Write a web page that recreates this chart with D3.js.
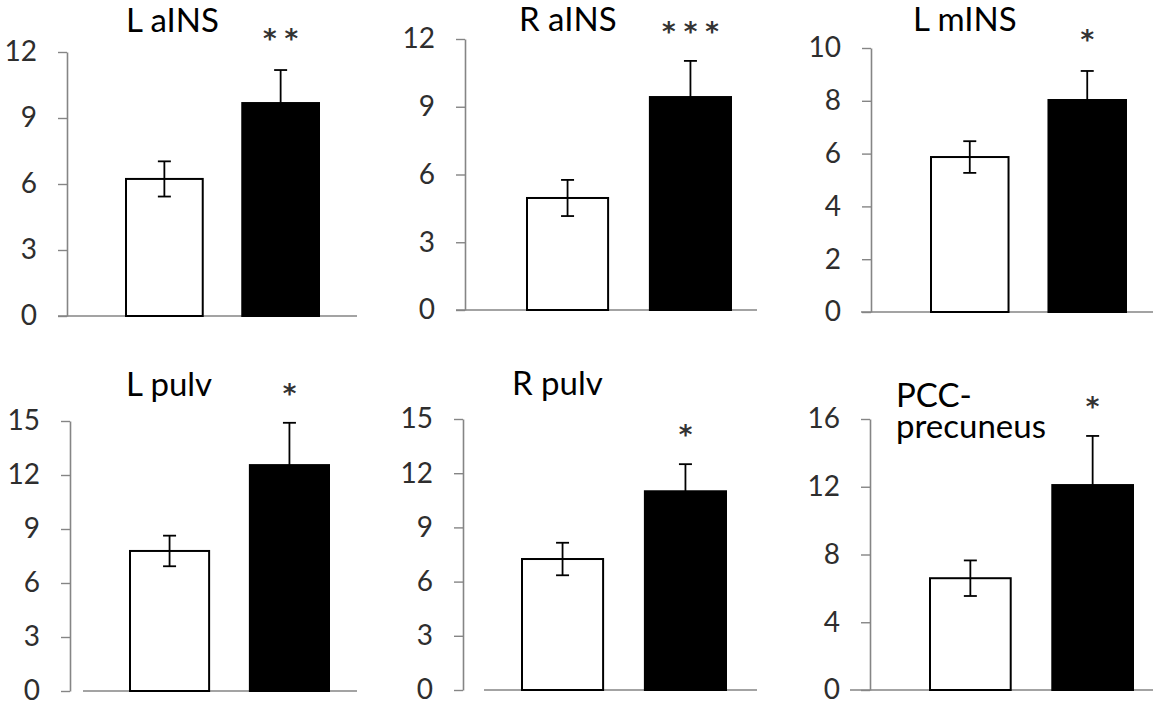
<!DOCTYPE html>
<html>
<head>
<meta charset="utf-8">
<script src="https://cdn.jsdelivr.net/npm/d3@7"></script>
<style>
  html, body { margin: 0; padding: 0; background: #fff; }
  svg { display: block; }
</style>
</head>
<body>
<svg id="chart" width="1153" height="709"></svg>
<script>
// ---- data ----
const panelTitles = [["L aINS"], ["R aINS"], ["L mINS"], ["L pulv"], ["R pulv"], ["PCC-", "precuneus"]];
const groups = ["group1", "group2"];
const whiteMeans = [6.23, 4.96, 5.87, 7.78, 7.25, 6.6];
const whiteErr   = [0.8, 0.8, 0.6, 0.85, 0.9, 1.05];
const blackMeans = [9.68, 9.43, 8.03, 12.55, 11.0, 12.1];
const blackErr   = [1.5, 1.6, 1.1, 2.35, 1.5, 2.9];
const yMax = [12, 12, 10, 15, 15, 16];
const yTicks = [
  [0, 3, 6, 9, 12],
  [0, 3, 6, 9, 12],
  [0, 2, 4, 6, 8, 10],
  [0, 3, 6, 9, 12, 15],
  [0, 3, 6, 9, 12, 15],
  [0, 4, 8, 12, 16]
];
const stars = ["**", "***", "*", "*", "*", "*"];

// ---- layout (pixel positions) ----
const layout = [
  {axisX: 67,  yTop: 52,  yBot: 316, barL: 126, barR: 319, baseL: 58,  baseR: 357,  titleX: 126, titleY: 32,  starY: 34},
  {axisX: 465, yTop: 39,  yBot: 310, barL: 527, barR: 731, baseL: 456, baseR: 757,  titleX: 519, titleY: 31,  starY: 27},
  {axisX: 871, yTop: 48,  yBot: 312, barL: 931, barR: 1126, baseL: 861, baseR: 1153, titleX: 913, titleY: 31,  starY: 35},
  {axisX: 70,  yTop: 421, yBot: 691, barL: 130, barR: 329, baseL: 83,  baseR: 357,  titleX: 126, titleY: 396, starY: 389},
  {axisX: 463, yTop: 419, yBot: 690, barL: 522, barR: 726, baseL: 484, baseR: 757,  titleX: 512, titleY: 395, starY: 430},
  {axisX: 870, yTop: 419, yBot: 690, barL: 930, barR: 1133, baseL: 850, baseR: 1153, titleX: 896, titleY: 407, starY: 402}
];

const svg = d3.select("#chart");
const FONT = "Lato, 'Open Sans', sans-serif";
const axisColor = "#858585";

panelTitles.forEach((title, i) => {
  const L = layout[i];
  const g = svg.append("g");
  const y = d3.scaleLinear().domain([0, yMax[i]]).range([L.yBot, L.yTop]);
  const x = d3.scaleBand().domain(groups).range([L.barL, L.barR]).paddingInner(0.34).paddingOuter(0);

  // baseline
  g.append("line")
    .attr("x1", L.baseL).attr("x2", L.baseR)
    .attr("y1", y(0)).attr("y2", y(0))
    .attr("stroke", axisColor).attr("stroke-width", 1.6);

  // y axis
  const ax = g.append("g")
    .attr("transform", `translate(${L.axisX},0)`)
    .call(d3.axisLeft(y).tickValues(yTicks[i]).tickSize(9).tickSizeOuter(0).tickPadding(21).tickFormat(d3.format("d")));
  ax.select(".domain").attr("stroke", axisColor).attr("stroke-width", 1.6);
  ax.selectAll(".tick line").attr("stroke", axisColor).attr("stroke-width", 1.4);
  ax.selectAll(".tick text")
    .attr("fill", "#2e2e2e")
    .style("font-family", FONT)
    .style("font-size", "28px");

  const means = [whiteMeans[i], blackMeans[i]];
  const errs = [whiteErr[i], blackErr[i]];
  const fills = ["#ffffff", "#000000"];

  // error bars
  groups.forEach((gname, j) => {
    const cx = x(gname) + x.bandwidth() / 2;
    const hi = y(means[j] + errs[j]);
    const lo = y(means[j] - errs[j]);
    const eg = g.append("g");
    eg.append("line").attr("x1", cx).attr("x2", cx).attr("y1", hi).attr("y2", lo)
      .attr("stroke", "#000").attr("stroke-width", 1.8);
    eg.append("line").attr("x1", cx - 6.5).attr("x2", cx + 6.5).attr("y1", hi).attr("y2", hi)
      .attr("stroke", "#000").attr("stroke-width", 1.8);
    eg.append("line").attr("x1", cx - 6.5).attr("x2", cx + 6.5).attr("y1", lo).attr("y2", lo)
      .attr("stroke", "#000").attr("stroke-width", 1.8);
  });

  // bars
  g.selectAll("rect.bar")
    .data(groups)
    .join("rect")
    .attr("class", "bar")
    .attr("x", d => x(d))
    .attr("width", x.bandwidth())
    .attr("y", (d, j) => y(means[j]))
    .attr("height", (d, j) => y(0) - y(means[j]))
    .attr("fill", (d, j) => fills[j])
    .attr("fill-opacity", (d, j) => j === 0 ? 0 : 1)
    .attr("stroke", "#000")
    .attr("stroke-width", 2);

  const cxB = x(groups[1]) + x.bandwidth() / 2;

  // significance stars
  g.append("text")
    .attr("x", cxB)
    .attr("dx", 4)
    .attr("y", L.starY + 14)
    .attr("text-anchor", "middle")
    .attr("fill", "#333")
    .style("font-family", "'DejaVu Sans', sans-serif")
    .style("font-weight", "bold")
    .style("font-size", "26px")
    .style("letter-spacing", "8px")
    .text(stars[i]);

  // title
  const t = g.append("text")
    .attr("x", L.titleX)
    .attr("y", L.titleY)
    .attr("fill", "#000")
    .style("font-family", FONT)
    .style("font-size", "33px");
  title.forEach((line, k) => {
    t.append("tspan").attr("x", L.titleX).attr("dy", k === 0 ? 0 : 31).text(line);
  });
});
</script>
</body>
</html>
